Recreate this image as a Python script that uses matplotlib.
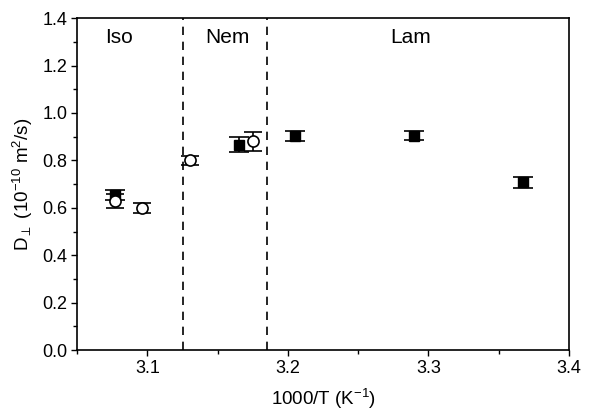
import matplotlib
matplotlib.use("Agg")
import matplotlib.pyplot as plt
from matplotlib.ticker import MultipleLocator

plt.rcParams['font.family'] = ['Liberation Sans', 'DejaVu Sans']
plt.rcParams['mathtext.fontset'] = 'custom'
plt.rcParams['mathtext.rm'] = 'Liberation Sans'
plt.rcParams['mathtext.it'] = 'Liberation Sans:italic'
plt.rcParams['mathtext.bf'] = 'Liberation Sans:bold'

# Filled squares
sq_x = [3.077, 3.165, 3.205, 3.290, 3.367]
sq_y = [0.655, 0.867, 0.903, 0.904, 0.707]
sq_err = [0.02, 0.03, 0.02, 0.02, 0.025]

# Open circles
ci_x = [3.077, 3.096, 3.130, 3.175]
ci_y = [0.628, 0.600, 0.800, 0.880]
ci_err = [0.03, 0.02, 0.02, 0.04]

# Phase boundaries
bounds = [3.1255, 3.185]
phase_labels = ["Iso", "Nem", "Lam"]
phase_x = [3.080, 3.157, 3.287]

fig = plt.figure(figsize=(5.89, 4.11), dpi=100)
ax = fig.add_axes([0.131, 0.148, 0.835, 0.808])

ax.errorbar(sq_x, sq_y, yerr=sq_err, fmt='s', color='black', ms=7.5,
            mfc='black', mec='black', capsize=7.5, elinewidth=1.2, capthick=1.2)
ax.errorbar(ci_x, ci_y, yerr=ci_err, fmt='o', color='black', ms=8,
            mfc='white', mec='black', mew=1.2, capsize=6.5, elinewidth=1.2, capthick=1.2)

for b in bounds:
    ax.axvline(b, color='black', ls=(0, (5, 4)), lw=1.2)

for lab, x in zip(phase_labels, phase_x):
    ax.text(x, 1.32, lab, fontsize=15, ha='center', va='center')

ax.set_xlim(3.05, 3.4)
ax.set_ylim(0, 1.4)
ax.xaxis.set_major_locator(MultipleLocator(0.1))
ax.xaxis.set_minor_locator(MultipleLocator(0.05))
ax.yaxis.set_major_locator(MultipleLocator(0.2))
ax.yaxis.set_minor_locator(MultipleLocator(0.1))
ax.yaxis.set_major_formatter(matplotlib.ticker.FormatStrFormatter('%.1f'))
ax.tick_params(which='both', direction='out', labelsize=13, width=1)
ax.tick_params(which='major', length=4, pad=3)
ax.tick_params(which='minor', length=3)
for s in ax.spines.values():
    s.set_linewidth(1.2)

ax.set_xlabel(r"1000/T (K$^{-1}$)", fontsize=13.5, labelpad=7)
ax.set_ylabel(r"D$_{\perp}$ (10$^{-10}$ m$^2$/s)", fontsize=13.5, labelpad=5)

fig.savefig("out.png", dpi=100)
